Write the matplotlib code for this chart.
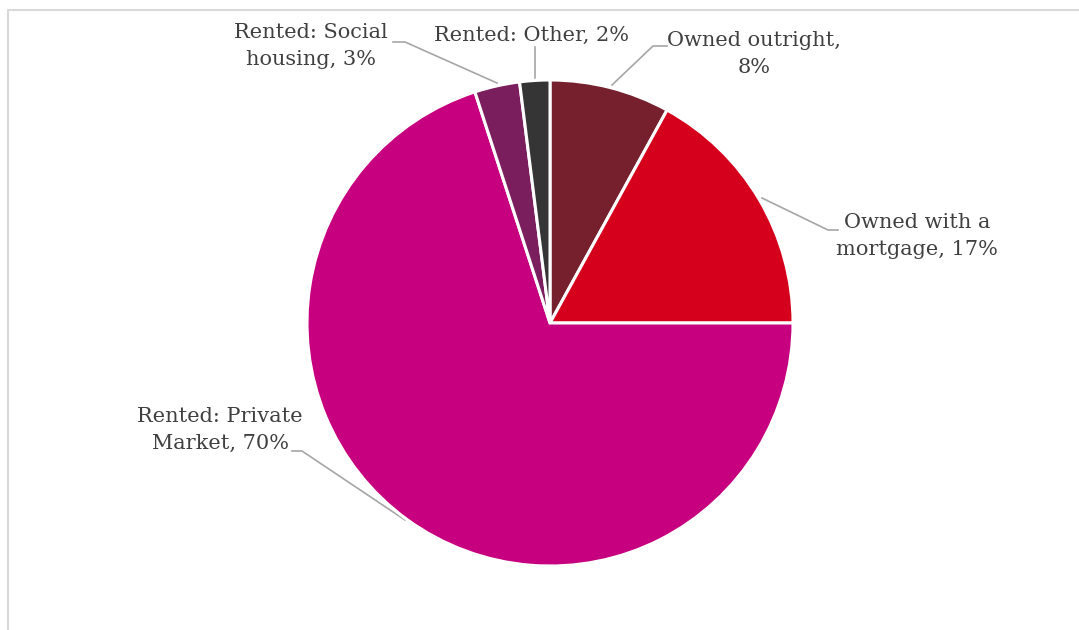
import matplotlib
matplotlib.use("Agg")
import matplotlib.pyplot as plt
from matplotlib.lines import Line2D

# tenure shares, clockwise from 12 o'clock
labels = ["Owned outright", "Owned with a mortgage", "Rented: Private Market",
          "Rented: Social housing", "Rented: Other"]
shares = [8, 17, 70, 3, 2]
colors = ["#76202E", "#D5001C", "#C6007E", "#7B1E5E", "#353535"]

# how each label is wrapped on the chart
label_text = ["Owned outright,\n{}%", "Owned with a\nmortgage, {}%", "Rented: Private\nMarket, {}%",
              "Rented: Social\nhousing, {}%", "Rented: Other, {}%"]

W, H = 1079, 630
fig = plt.figure(figsize=(W / 100, H / 100), dpi=100)
ax = fig.add_axes([0, 0, 1, 1])
ax.set_xlim(0, W)
ax.set_ylim(H, 0)
ax.set_aspect("equal")
ax.axis("off")

# pie drawn in a separate axes so its orientation stays normal
pax = fig.add_axes([(550 - 243) / W, 1 - (323 + 243) / H, 486 / W, 486 / H])
pax.pie(shares, colors=colors, startangle=90, counterclock=False,
        wedgeprops=dict(edgecolor="white", linewidth=2.2))
pax.set_xlim(-1, 1)
pax.set_ylim(-1, 1)
pax.set_aspect("equal")
pax.axis("off")

# label positions (text centre) and leader lines, in pixel coords
label_pos = [(754, 54), (917, 236), (220, 430), (311, 46), (532, 35)]
leaders = [
    [(667, 46), (653, 46), (612, 85)],
    [(838, 230), (828, 230), (762, 198)],
    [(292, 451), (302, 451), (405, 520)],
    [(393, 42), (405, 42), (497, 83)],
    [(535, 47), (535, 78)],
]

for txt, v, (x, y) in zip(label_text, shares, label_pos):
    ax.text(x, y, txt.format(v), ha="center", va="center", fontsize=15,
            family="DejaVu Serif", color="#404040", linespacing=1.5)

for pts in leaders:
    xs, ys = zip(*pts)
    ax.add_line(Line2D(xs, ys, color="#A6A6A6", lw=1.2, zorder=1))

# light chart-area border along the top and left
ax.add_line(Line2D([8, 8, W], [H, 10, 10], color="#D9D9D9", lw=1.5))

fig.savefig("out.png", dpi=100)
